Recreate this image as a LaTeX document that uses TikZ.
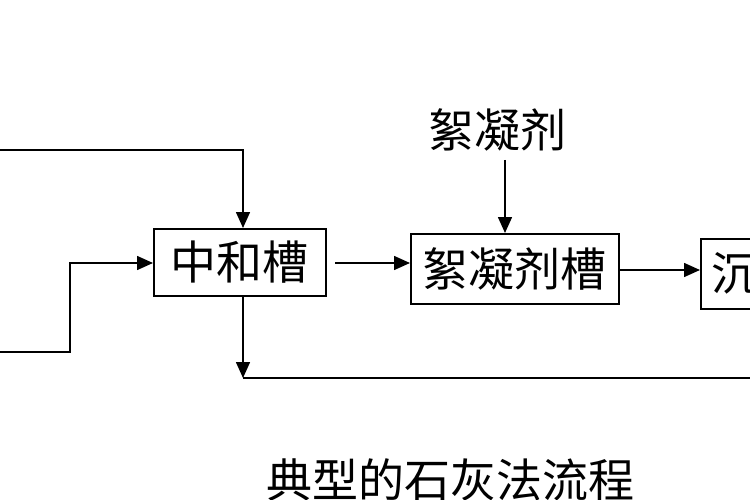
\documentclass[tikz,border=0pt]{standalone}
\usepackage{fontspec}
\newfontfamily\cjk{Noto Sans CJK SC}
\usetikzlibrary{arrows.meta}
\begin{document}
\begin{tikzpicture}[x=1pt,y=-1pt,
  box/.style={draw,line width=1.6pt,anchor=north west,inner sep=0pt},
  ln/.style={line width=1.6pt},
  arr/.style={ln,-{Triangle[length=16pt,width=14pt]}},
  txt/.style={font=\cjk\fontsize{46}{50}\selectfont}]
\useasboundingbox (0,0) rectangle (750,500);
\clip (0,0) rectangle (750,500);
\node[box,minimum width=172pt,minimum height=67pt] (b1) at (153,228) {};
\node[txt] at (b1.center) {中和槽};
\node[box,minimum width=208pt,minimum height=70pt] (b2) at (410,233) {};
\node[txt] at (b2.center) {絮凝剂槽};
\node[box,minimum width=70pt,minimum height=70pt] (b3) at (700,238) {};
\node[txt,anchor=west] at (708,273) {沉};
\node[txt] (lbl) at (497,130) {絮凝剂};
\coordinate (t0) at (0,150);
\coordinate (l0) at (0,352);
\coordinate (d) at (243,378);
\coordinate (e) at (750,378);
\draw[arr] (t0) -- (243,150) -- (b1.north -| 243,0);
\draw[arr] (l0) -- (70,352) -- (70,263) -- (b1.west |- 0,263);
\draw[arr] (335,263) -- (b2.west |- 0,263);
\draw[arr] (505,160) -- (b2.north -| 505,0);
\draw[arr] (620,270) -- (b3.west |- 0,270);
\draw[arr] (b1.south -| 243,0) -- (d);
\draw[ln] (d) -- (e);
\node[txt] (cap) at (450,480) {典型的石灰法流程};
\end{tikzpicture}
\end{document}
